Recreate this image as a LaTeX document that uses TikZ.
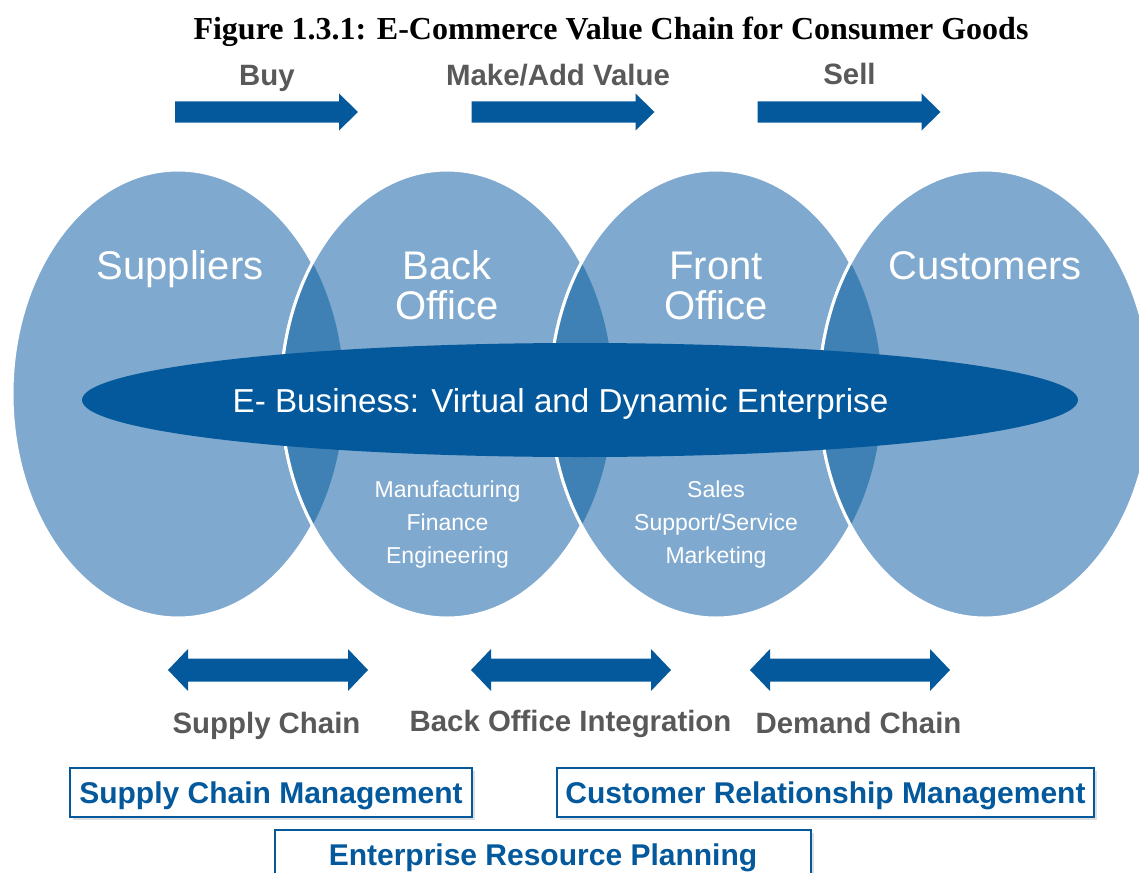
\documentclass[tikz,border=0pt]{standalone}
\usepackage{fontspec}
\setmainfont{Liberation Sans}
\newfontfamily\titlefont{Liberation Serif}
\usetikzlibrary{positioning,shadows}
\definecolor{ovallight}{RGB}{127,169,206}
\definecolor{ovaldark}{RGB}{63,128,181}
\definecolor{bandblue}{RGB}{3,89,156}
\definecolor{labelgrey}{RGB}{89,89,89}

\tikzset{
  ovaltitle/.style={anchor=base,text=white,inner sep=0pt,font=\fontsize{20}{24}\selectfont},
  ovalitem/.style={anchor=base,text=white,inner sep=0pt,font=\fontsize{11.5}{14}\selectfont},
  steplabel/.style={anchor=base,text=labelgrey,inner sep=0pt,font=\bfseries\fontsize{14.7}{17}\selectfont},
  mgmtbox/.style={draw=bandblue,line width=1.2pt,fill=white,inner sep=0pt,
    minimum height=24.5pt,text height=10.7pt,text depth=0pt,text=bandblue,
    font=\bfseries\fontsize{15}{18}\selectfont,
    drop shadow={shadow xshift=1.5pt,shadow yshift=-1.5pt,fill=black!25}},
  fwdarrow/.pic={\fill[bandblue] (-91.5,-10.5) -- (72.5,-10.5) -- (72.5,-18.5) -- (91.5,0)
    -- (72.5,18.5) -- (72.5,10.5) -- (-91.5,10.5) -- cycle;},
  botharrow/.pic={\fill[bandblue] (-100,0) -- (-80,-21) -- (-80,-11.5) -- (80,-11.5) -- (80,-21)
    -- (100,0) -- (80,21) -- (80,11.5) -- (-80,11.5) -- (-80,21) -- cycle;}
}

\begin{document}
\begin{tikzpicture}[x=0.5pt,y=-0.5pt]
  \useasboundingbox (0,0) rectangle (1139,872);

  \node (title) [anchor=base,inner sep=0pt,font=\titlefont\bfseries\fontsize{16}{19}\selectfont] at (611,40)
    {Figure 1.3.1: E-Commerce Value Chain for Consumer Goods};

  % buy / make / sell
  \pic at (266.5,112) {fwdarrow};
  \pic at (563,112) {fwdarrow};
  \pic at (849,112) {fwdarrow};
  \node (buy) [steplabel] at (267,86) {Buy};
  \node (make) [steplabel] at (558,86) {Make/Add Value};
  \node (sell) [steplabel] at (849.5,84) {Sell};

  % the four ovals and their overlaps
  \foreach \cx in {178,447,716,985}
    \filldraw[fill=ovallight,draw=white,line width=1.5pt] (\cx,394) ellipse [x radius=166,y radius=224];
  \foreach \a/\b in {178/447,447/716,716/985} {
    \begin{scope}
      \clip (\a,394) ellipse [x radius=166,y radius=224];
      \filldraw[fill=ovaldark,draw=white,line width=1.5pt] (\b,394) ellipse [x radius=166,y radius=224];
    \end{scope}
  }

  \node (supp) [ovaltitle] at (180,279) {Suppliers};
  \node (backA) [ovaltitle] at (447,279) {Back};
  \node (backB) [ovaltitle] at (447,319) {Office};
  \node (frontA) [ovaltitle] at (716,279) {Front};
  \node (frontB) [ovaltitle] at (716,319) {Office};
  \node (cust) [ovaltitle] at (985,279) {Customers};

  % e-business band
  \fill[bandblue] (580,400) ellipse [x radius=498,y radius=57];
  \node (ebiz) [anchor=base,text=white,inner sep=0pt,font=\fontsize{16.6}{20}\selectfont] at (560.5,412)
    {E- Business: Virtual and Dynamic Enterprise};

  \foreach \txt [count=\i] in {Manufacturing,Finance,Engineering}
    \node (back\i) [ovalitem] at (447.5,464+33*\i) {\txt};
  \foreach \txt [count=\i] in {Sales,Support/Service,Marketing}
    \node (front\i) [ovalitem] at (716,464+33*\i) {\txt};

  % chains
  \pic at (268,670) {botharrow};
  \pic at (571,670) {botharrow};
  \pic at (850,670) {botharrow};
  \node (supchain) [steplabel] at (266.5,733) {Supply Chain};
  \node (boint) [steplabel] at (570.5,731) {Back Office Integration};
  \node (demchain) [steplabel] at (858.5,733) {Demand Chain};

  % management systems
  \node (scm) [mgmtbox,minimum width=201pt] at (271,792.5) {Supply Chain Management};
  \node (crm) [mgmtbox,minimum width=268.5pt] at (825.5,792.5) {Customer Relationship Management};
  \node (erp) [mgmtbox,minimum width=268pt] at (543,854.5) {Enterprise Resource Planning};
\end{tikzpicture}
\end{document}
